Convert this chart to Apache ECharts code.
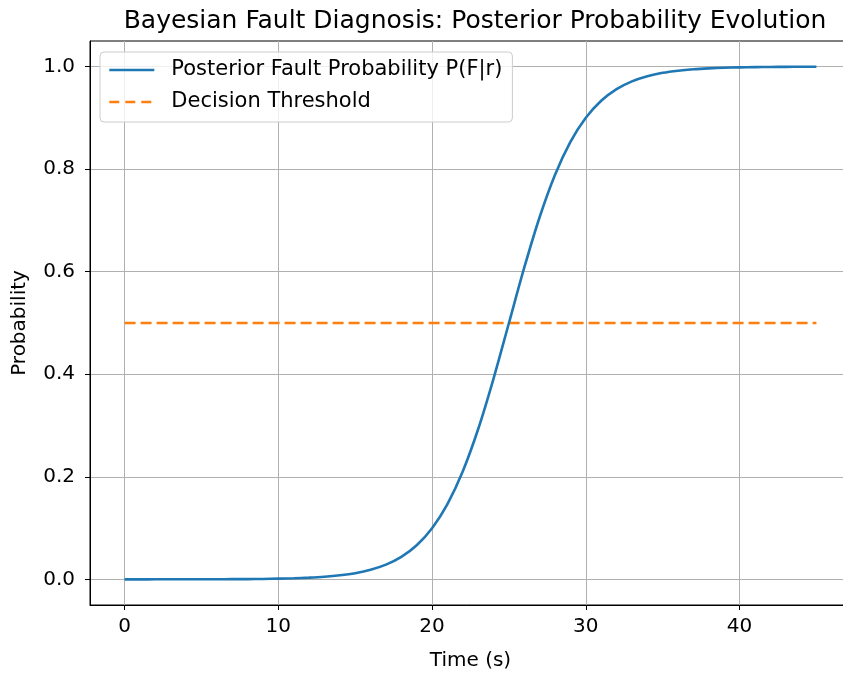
<!DOCTYPE html>
<html>
<head>
<meta charset="utf-8">
<script src="https://cdn.jsdelivr.net/npm/echarts@6/dist/echarts.min.js"></script>
<style>
  html, body { margin: 0; padding: 0; background: #fff; }
  #chart { width: 843px; height: 673px; }
</style>
</head>
<body>
<div id="chart"></div>
<script>
// time in seconds
var timeSec = [0,1,2,3,4,5,6,7,8,9,10,11,12,13,14,15,16,17,18,19,20,21,22,23,24,25,26,27,28,29,30,31,32,33,34,35,36,37,38,39,40,41,42,43,44,45];
// posterior fault probability
var posterior = [0.0000,0.0000,0.0001,0.0001,0.0001,0.0002,0.0002,0.0004,0.0005,0.0008,0.0014,0.0021,0.0033,0.0051,0.0079,0.0121,0.0187,0.0287,0.0439,0.0666,0.0998,0.1468,0.2108,0.2932,0.3917,0.5000,0.6083,0.7068,0.7892,0.8532,0.9002,0.9334,0.9561,0.9713,0.9813,0.9879,0.9921,0.9949,0.9967,0.9979,0.9986,0.9991,0.9994,0.9996,0.9998,0.9999];
var thresholdTime = [0, 45];
var thresholdValue = [0.5, 0.5];
var xTicks = [0, 10, 20, 30, 40];
var yTicks = [0.0, 0.2, 0.4, 0.6, 0.8, 1.0];

var font = "DejaVu Sans";
var chart = echarts.init(document.getElementById("chart"));

chart.setOption({
  backgroundColor: "#fff",
  animation: false,
  textStyle: { fontFamily: font },
  title: {
    text: "Bayesian Fault Diagnosis: Posterior Probability Evolution",
    left: 470, top: 4, textAlign: "center",
    textStyle: { fontFamily: font, fontSize: 25, fontWeight: "normal", color: "#000" }
  },
  legend: {
    orient: "vertical",
    left: 100, top: 52,
    padding: [6, 10, 8, 8],
    itemGap: 8,
    itemWidth: 45, itemHeight: 14,
    backgroundColor: "rgba(255,255,255,0.8)",
    borderColor: "#cccccc", borderWidth: 1, borderRadius: 4,
    itemStyle: { opacity: 0 },
    lineStyle: { width: 2.6 },
    textStyle: { fontFamily: font, fontSize: 21, lineHeight: 24, color: "#000", padding: [0, 0, 0, 12] },
    data: [
      "Posterior Fault Probability P(F|r)",
      { name: "Decision Threshold", lineStyle: { width: 2.6, type: [10, 6] } }
    ]
  },
  grid: {
    left: 90, top: 41, width: 761, height: 564,
    show: true, borderColor: "#000", borderWidth: 1,
    outerBoundsMode: "none"
  },
  xAxis: {
    type: "value", min: -2.25, max: 47.25,
    name: "Time (s)", nameLocation: "middle", nameGap: 46,
    nameTextStyle: { fontFamily: font, fontSize: 20, color: "#000" },
    axisLine: { show: true, onZero: false, lineStyle: { color: "#000", width: 1 } },
    axisTick: { show: true, length: 5, customValues: xTicks, lineStyle: { color: "#000" } },
    axisLabel: { customValues: xTicks, fontSize: 20, color: "#000", margin: 12, fontFamily: font },
    splitLine: { show: true, lineStyle: { color: "#b0b0b0", width: 1 } }
  },
  yAxis: {
    type: "value", min: -0.05, max: 1.05,
    name: "Probability", nameLocation: "middle", nameGap: 60,
    nameTextStyle: { fontFamily: font, fontSize: 20, color: "#000" },
    axisLine: { show: true, onZero: false, lineStyle: { color: "#000", width: 1 } },
    axisTick: { show: true, length: 5, customValues: yTicks, lineStyle: { color: "#000" } },
    axisLabel: {
      customValues: yTicks, fontSize: 20, color: "#000", margin: 15, fontFamily: font,
      formatter: function (v) { return v.toFixed(1); }
    },
    splitLine: { show: true, lineStyle: { color: "#b0b0b0", width: 1 } }
  },
  series: [
    {
      name: "Posterior Fault Probability P(F|r)",
      type: "line", symbol: "none", smooth: 0.3,
      data: timeSec.map(function (t, i) { return [t, posterior[i]]; }),
      lineStyle: { color: "#1f77b4", width: 2.6 },
      itemStyle: { color: "#1f77b4" },
      z: 3
    },
    {
      name: "Decision Threshold",
      type: "line", symbol: "none",
      data: thresholdTime.map(function (t, i) { return [t, thresholdValue[i]]; }),
      lineStyle: { color: "#ff7f0e", width: 2.6, type: [11, 5] },
      itemStyle: { color: "#ff7f0e" },
      z: 2
    }
  ]
});
</script>
</body>
</html>
